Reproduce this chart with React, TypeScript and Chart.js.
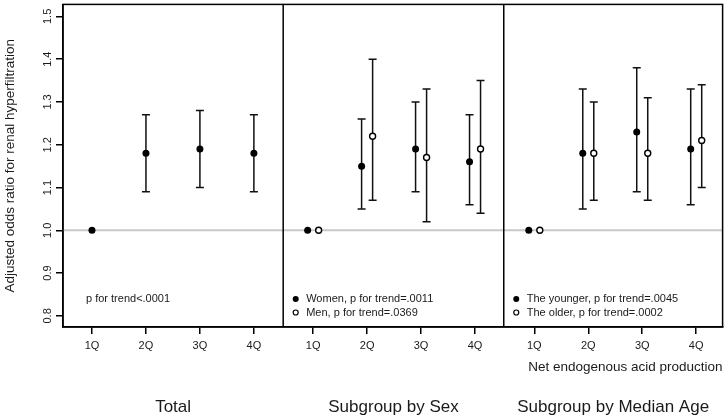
import React, { useEffect, useRef } from 'react';
import { Chart, registerables } from 'chart.js';

Chart.register(...registerables);

// ---------- data ----------
const quartileLabels = ['1Q', '2Q', '3Q', '4Q'];
const panelTitles = ['Total', 'Subgroup by Sex', 'Subgroup by Median Age'];
const yTickValues = [0.8, 0.9, 1.0, 1.1, 1.2, 1.3, 1.4, 1.5];
const xAxisTitle = 'Net endogenous acid production';
const yAxisTitle = 'Adjusted odds ratio for renal hyperfiltration';

const totalOR = [1.0, 1.18, 1.19, 1.18];
const totalLo = [null, 1.09, 1.1, 1.09];
const totalHi = [null, 1.27, 1.28, 1.27];

const womenOR = [1.0, 1.15, 1.19, 1.16];
const womenLo = [null, 1.05, 1.09, 1.06];
const womenHi = [null, 1.26, 1.3, 1.27];

const menOR = [1.0, 1.22, 1.17, 1.19];
const menLo = [null, 1.07, 1.02, 1.04];
const menHi = [null, 1.4, 1.33, 1.35];

const youngerOR = [1.0, 1.18, 1.23, 1.19];
const youngerLo = [null, 1.05, 1.09, 1.06];
const youngerHi = [null, 1.33, 1.38, 1.33];

const olderOR = [1.0, 1.18, 1.18, 1.21];
const olderLo = [null, 1.07, 1.07, 1.1];
const olderHi = [null, 1.3, 1.31, 1.34];

const legendTexts = [
  [{ text: 'p for trend<.0001', marker: 'none' }],
  [
    { text: 'Women, p for trend=.0011', marker: 'filled' },
    { text: 'Men, p for trend=.0369', marker: 'open' },
  ],
  [
    { text: 'The younger, p for trend=.0045', marker: 'filled' },
    { text: 'The older, p for trend=.0002', marker: 'open' },
  ],
];

// ---------- layout constants ----------
const PANEL_STEP = 4.098;
const X_MIN = 0.463;
const X_MAX = 12.685;
const PANEL_EDGES = [X_MIN, 4.543, 8.63, X_MAX];
const DODGE = 0.102;
const FONT = "'Liberation Sans', Arial, sans-serif";
const TEXT = '#1a1a1a';

const pos = (panel: number, i: number, dodge: number) => panel * PANEL_STEP + (i + 1) + dodge;
const pts = (panel: number, dodge: number, vals: number[]) =>
  vals.map((v, i) => ({ x: pos(panel, i, dodge), y: v }));

const tickPositions: number[] = [];
for (let p = 0; p < 3; p++) for (let i = 0; i < 4; i++) tickPositions.push(pos(p, i, 0));

function makeDs(label: string, data: any[], lo: any[], hi: any[], open: boolean) {
  return {
    label,
    data,
    errLo: lo,
    errHi: hi,
    showLine: false,
    pointRadius: open ? 3 : 3.5,
    pointBorderWidth: open ? 1.4 : 0,
    pointBackgroundColor: open ? '#ffffff' : '#000000',
    pointBorderColor: '#000000',
    pointHoverRadius: open ? 3 : 3.5,
  };
}

const customDraw = {
  id: 'customDraw',
  beforeDatasetsDraw(chart: any) {
    const { ctx, chartArea: a, scales } = chart;
    const y = scales.y;
    ctx.save();
    const y1 = y.getPixelForValue(1.0);
    ctx.strokeStyle = '#c8c8c8';
    ctx.lineWidth = 2;
    ctx.beginPath();
    ctx.moveTo(a.left, y1);
    ctx.lineTo(a.right, y1);
    ctx.stroke();

    chart.data.datasets.forEach((ds: any, di: number) => {
      const meta = chart.getDatasetMeta(di);
      meta.data.forEach((el: any, i: number) => {
        const lo = ds.errLo[i];
        const hi = ds.errHi[i];
        if (lo == null || hi == null) return;
        const px = el.x;
        const pl = y.getPixelForValue(lo);
        const ph = y.getPixelForValue(hi);
        ctx.strokeStyle = '#111111';
        ctx.lineWidth = 1.5;
        ctx.beginPath();
        ctx.moveTo(px, pl);
        ctx.lineTo(px, ph);
        ctx.moveTo(px - 4, pl);
        ctx.lineTo(px + 4, pl);
        ctx.moveTo(px - 4, ph);
        ctx.lineTo(px + 4, ph);
        ctx.stroke();
      });
    });
    ctx.restore();
  },
  afterDraw(chart: any) {
    const { ctx, chartArea: a, scales } = chart;
    const x = scales.x;
    const y = scales.y;
    ctx.save();
    // box and dividers
    ctx.strokeStyle = '#000';
    ctx.lineWidth = 1.5;
    ctx.strokeRect(a.left, a.top, a.right - a.left, a.bottom - a.top);
    const edges = PANEL_EDGES.map((v) => x.getPixelForValue(v));
    ctx.beginPath();
    [1, 2].forEach((k) => {
      ctx.moveTo(edges[k], a.top);
      ctx.lineTo(edges[k], a.bottom);
    });
    ctx.stroke();

    // y tick labels (rotated)
    ctx.fillStyle = TEXT;
    ctx.font = `11px ${FONT}`;
    ctx.textAlign = 'center';
    ctx.textBaseline = 'middle';
    y.ticks.forEach((t: any) => {
      const py = y.getPixelForValue(t.value);
      ctx.save();
      ctx.translate(48, py);
      ctx.rotate(-Math.PI / 2);
      ctx.fillText(t.value.toFixed(1), 0, 0);
      ctx.restore();
    });

    // legends
    ctx.font = `11px ${FONT}`;
    ctx.textAlign = 'left';
    ctx.textBaseline = 'middle';
    legendTexts.forEach((items, p) => {
      items.forEach((it, r) => {
        const ly = 299 + r * 13.5;
        const left = edges[p];
        if (it.marker !== 'none') {
          ctx.beginPath();
          if (it.marker === 'filled') {
            ctx.arc(left + 12.5, ly, 3, 0, Math.PI * 2);
            ctx.fillStyle = '#000';
            ctx.fill();
          } else {
            ctx.arc(left + 12.5, ly, 2.5, 0, Math.PI * 2);
            ctx.fillStyle = '#fff';
            ctx.fill();
            ctx.lineWidth = 1.2;
            ctx.strokeStyle = '#000';
            ctx.stroke();
          }
        }
        ctx.fillStyle = TEXT;
        ctx.fillText(it.text, left + 23, ly);
      });
    });

    // x axis title
    ctx.font = `13.5px ${FONT}`;
    ctx.textAlign = 'right';
    ctx.fillText(xAxisTitle, a.right, 367);

    // panel titles
    ctx.font = `17px ${FONT}`;
    ctx.textAlign = 'center';
    panelTitles.forEach((t, p) => {
      ctx.fillText(t, (edges[p] + edges[p + 1]) / 2, 407);
    });
    ctx.restore();
  },
};

export default function App() {
  const ref = useRef<HTMLCanvasElement>(null);
  useEffect(() => {
    if (!ref.current) return;
    Chart.defaults.font.family = FONT;
    const chart = new Chart(ref.current, {
      type: 'scatter',
      data: {
        datasets: [
          makeDs('Total', pts(0, 0, totalOR), totalLo, totalHi, false),
          makeDs('Women', pts(1, -DODGE, womenOR), womenLo, womenHi, false),
          makeDs('Men', pts(1, DODGE, menOR), menLo, menHi, true),
          makeDs('The younger', pts(2, -DODGE, youngerOR), youngerLo, youngerHi, false),
          makeDs('The older', pts(2, DODGE, olderOR), olderLo, olderHi, true),
        ] as any,
      },
      options: {
        animation: false,
        responsive: false,
        layout: { padding: { left: 0, right: 4, top: 1, bottom: 0 } },
        plugins: { legend: { display: false }, tooltip: { enabled: false } },
        events: [],
        scales: {
          x: {
            type: 'linear',
            min: X_MIN,
            max: X_MAX,
            afterBuildTicks: (s: any) => {
              s.ticks = tickPositions.map((v) => ({ value: v }));
            },
            afterFit: (s: any) => {
              s.height = 88;
            },
            ticks: {
              callback: (_v: any, i: number) => quartileLabels[i % 4],
              autoSkip: false,
              maxRotation: 0,
              minRotation: 0,
              padding: 5,
              color: TEXT,
              font: { size: 11, family: FONT },
            },
            grid: { drawOnChartArea: false, drawTicks: true, tickLength: 7, color: '#000', lineWidth: 1.5 },
            border: { display: true, color: '#000', width: 1.5 },
          },
          y: {
            type: 'linear',
            min: 0.774,
            max: 1.528,
            afterBuildTicks: (s: any) => {
              s.ticks = yTickValues.map((v) => ({ value: v }));
            },
            afterFit: (s: any) => {
              s.width = 63;
            },
            ticks: { display: false },
            grid: { drawOnChartArea: false, drawTicks: true, tickLength: 7, color: '#000', lineWidth: 1.5 },
            border: { display: true, color: '#000', width: 1.5 },
            title: {
              display: true,
              text: yAxisTitle,
              color: TEXT,
              font: { size: 13.5, family: FONT },
              padding: { top: 2, bottom: 0 },
            },
          },
        },
      } as any,
      plugins: [customDraw],
    });
    return () => chart.destroy();
  }, []);
  return (
    <div style={{ position: 'absolute', left: 0, top: 0, width: 727, height: 415, background: '#fff' }}>
      <canvas ref={ref} width={727} height={415} style={{ display: 'block' }} />
    </div>
  );
}
